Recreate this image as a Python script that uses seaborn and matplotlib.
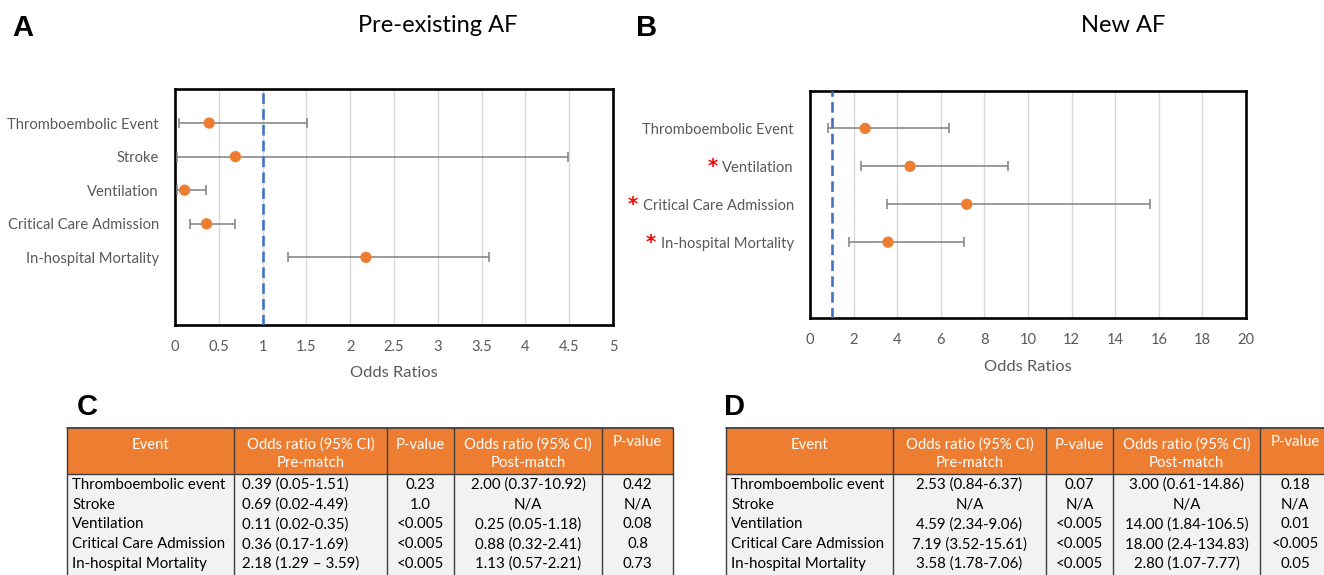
import matplotlib
matplotlib.use("Agg")
import matplotlib.pyplot as plt
import seaborn as sns
import pandas as pd
from matplotlib.patches import Rectangle

# Panel A - pre-existing AF
events_a = ['Thromboembolic Event', 'Stroke', 'Ventilation', 'Critical Care Admission', 'In-hospital Mortality']
or_a = [0.39, 0.69, 0.11, 0.36, 2.18]
lo_a = [0.05, 0.02, 0.02, 0.17, 1.29]
hi_a = [1.51, 4.49, 0.35, 0.69, 3.59]
xticks_a = [0, 0.5, 1, 1.5, 2, 2.5, 3, 3.5, 4, 4.5, 5]

# Panel B - new AF
events_b = ['Thromboembolic Event', 'Ventilation', 'Critical Care Admission', 'In-hospital Mortality']
or_b = [2.53, 4.59, 7.19, 3.58]
lo_b = [0.84, 2.34, 3.52, 1.78]
hi_b = [6.37, 9.06, 15.61, 7.06]
signif_b = [False, True, True, True]
xticks_b = [0, 2, 4, 6, 8, 10, 12, 14, 16, 18, 20]

# Tables C and D
head_line1 = ['Event', 'Odds ratio (95% CI)', 'P-value', 'Odds ratio (95% CI)', 'P-value']
head_line2 = ['', 'Pre-match', '', 'Post-match', '']
table_events = ['Thromboembolic event', 'Stroke', 'Ventilation', 'Critical Care Admission', 'In-hospital Mortality']

c_or_pre = ['0.39 (0.05-1.51)', '0.69 (0.02-4.49)', '0.11 (0.02-0.35)', '0.36 (0.17-1.69)', '2.18 (1.29 \u2013 3.59)']
c_p_pre = ['0.23', '1.0', '<0.005', '<0.005', '<0.005']
c_or_post = ['2.00 (0.37-10.92)', 'N/A', '0.25 (0.05-1.18)', '0.88 (0.32-2.41)', '1.13 (0.57-2.21)']
c_p_post = ['0.42', 'N/A', '0.08', '0.8', '0.73']

d_or_pre = ['2.53 (0.84-6.37)', 'N/A', '4.59 (2.34-9.06)', '7.19 (3.52-15.61)', '3.58 (1.78-7.06)']
d_p_pre = ['0.07', 'N/A', '<0.005', '<0.005', '<0.005']
d_or_post = ['3.00 (0.61-14.86)', 'N/A', '14.00 (1.84-106.5)', '18.00 (2.4-134.83)', '2.80 (1.07-7.77)']
d_p_post = ['0.18', 'N/A', '0.01', '<0.005', '0.05']

ORANGE = '#ED7D31'
GREY_TXT = '#595959'
W, H = 1324, 575

sns.set_theme(style='white')
plt.rcParams['font.family'] = ['Lato', 'DejaVu Sans']

fig = plt.figure(figsize=(W / 100, H / 100), dpi=100)


def box(l, t, r, b):
    return [l / W, 1 - b / H, (r - l) / W, (b - t) / H]


def forest(ax, events, ors, lo, hi, xticks):
    df = pd.DataFrame({'event': events, 'or': ors, 'lo': lo, 'hi': hi})
    df['pos'] = range(len(df))
    ax.errorbar(df['or'], df['pos'], xerr=[df['or'] - df['lo'], df['hi'] - df['or']],
                fmt='none', ecolor='#808080', elinewidth=1.1, capsize=3.3, capthick=1.1, zorder=3)
    sns.scatterplot(data=df, x='or', y='pos', ax=ax, color=ORANGE, s=66,
                    edgecolor='none', zorder=4, legend=False)
    ax.axvline(1, color='#4472C4', lw=1.9, ls=(0, (4, 2)), zorder=5)
    ax.set_xlim(xticks[0], xticks[-1])
    ax.set_ylim(len(df) + 1, -1)
    ax.set_xticks(xticks, [f'{v:g}' for v in xticks])
    ax.set_yticks(df['pos'], events)
    ax.grid(axis='x', color='#d9d9d9', lw=1, zorder=0)
    ax.grid(axis='y', visible=False)
    ax.set_axisbelow(True)
    ax.tick_params(length=0, labelsize=10.6, colors=GREY_TXT)
    ax.tick_params(axis='y', pad=11.5)
    ax.tick_params(axis='x', pad=11)
    ax.set_xlabel('Odds Ratios', fontsize=11.8, color=GREY_TXT, labelpad=9)
    ax.set_ylabel('')
    for sp in ax.spines.values():
        sp.set_visible(True)
        sp.set_color('black')
        sp.set_linewidth(1.9)


ax_a = fig.add_axes(box(175, 89.5, 613, 324.5))
forest(ax_a, events_a, or_a, lo_a, hi_a, xticks_a)

ax_b = fig.add_axes(box(810, 90.5, 1246, 318))
forest(ax_b, events_b, or_b, lo_b, hi_b, xticks_b)

# titles and panel letters
fig.text(438 / W, 1 - 25 / H, 'Pre-existing AF', ha='center', va='center', fontsize=17, color='black')
fig.text(1123 / W, 1 - 25 / H, 'New AF', ha='center', va='center', fontsize=17, color='black')
for letter, x, y in [('A', 23, 28), ('B', 647, 28), ('C', 87, 407), ('D', 734, 407)]:
    fig.text(x / W, 1 - y / H, letter, ha='center', va='center', fontsize=21,
             fontweight='bold', family='Liberation Sans', color='black')

# overlay axes in pixel units for the tables
tab = fig.add_axes([0, 0, 1, 1], zorder=-1)
tab.set_xlim(0, W)
tab.set_ylim(H, 0)
tab.axis('off')


def draw_table(edges, columns, align):
    top, mid, bottom = 428, 474, 580
    line = '#3d3d3d'
    tab.add_patch(Rectangle((edges[0], top), edges[-1] - edges[0], mid - top, fc=ORANGE, ec='none'))
    tab.add_patch(Rectangle((edges[0], mid), edges[-1] - edges[0], bottom - mid, fc='#f2f2f2', ec='none'))
    for x in edges:
        tab.plot([x, x], [top, bottom], color=line, lw=1)
    tab.plot([edges[0], edges[-1]], [top, top], color=line, lw=1.3)
    tab.plot([edges[0], edges[-1]], [mid, mid], color=line, lw=1)
    for j, col in enumerate(columns):
        cx = (edges[j] + edges[j + 1]) / 2
        hy = 442 if j == len(columns) - 1 else 445
        tab.text(cx, hy, head_line1[j], color='white', ha='center', va='center', fontsize=10.7)
        if head_line2[j]:
            tab.text(cx, 463, head_line2[j], color='white', ha='center', va='center', fontsize=10.7)
        for i, val in enumerate(col):
            y = 485 + i * 19.75
            if align[j] == 'left':
                x = edges[j] + (5 if j == 0 else 8.5)
            else:
                x = cx
            tab.text(x, y, val, color='black', ha=align[j], va='center', fontsize=10.8)


draw_table([67, 234, 387, 454, 602, 673],
           [table_events, c_or_pre, c_p_pre, c_or_post, c_p_post],
           ['left', 'left', 'center', 'center', 'center'])
draw_table([726, 893, 1046, 1113, 1260, 1330],
           [table_events, d_or_pre, d_p_pre, d_or_post, d_p_post],
           ['left', 'center', 'center', 'center', 'center'])

# red asterisks for significant rows in panel B
fig.canvas.draw()
for lab, sig in zip(ax_b.get_yticklabels(), signif_b):
    if sig:
        bb = lab.get_window_extent()
        fig.text((bb.x0 - 10) / W, (bb.y0 + bb.y1) / 2 / H + 1.5 / H, '*', color='red', fontsize=14,
                 fontweight='bold', family='DejaVu Sans', ha='center', va='center')

fig.savefig('out.png', dpi=100)
